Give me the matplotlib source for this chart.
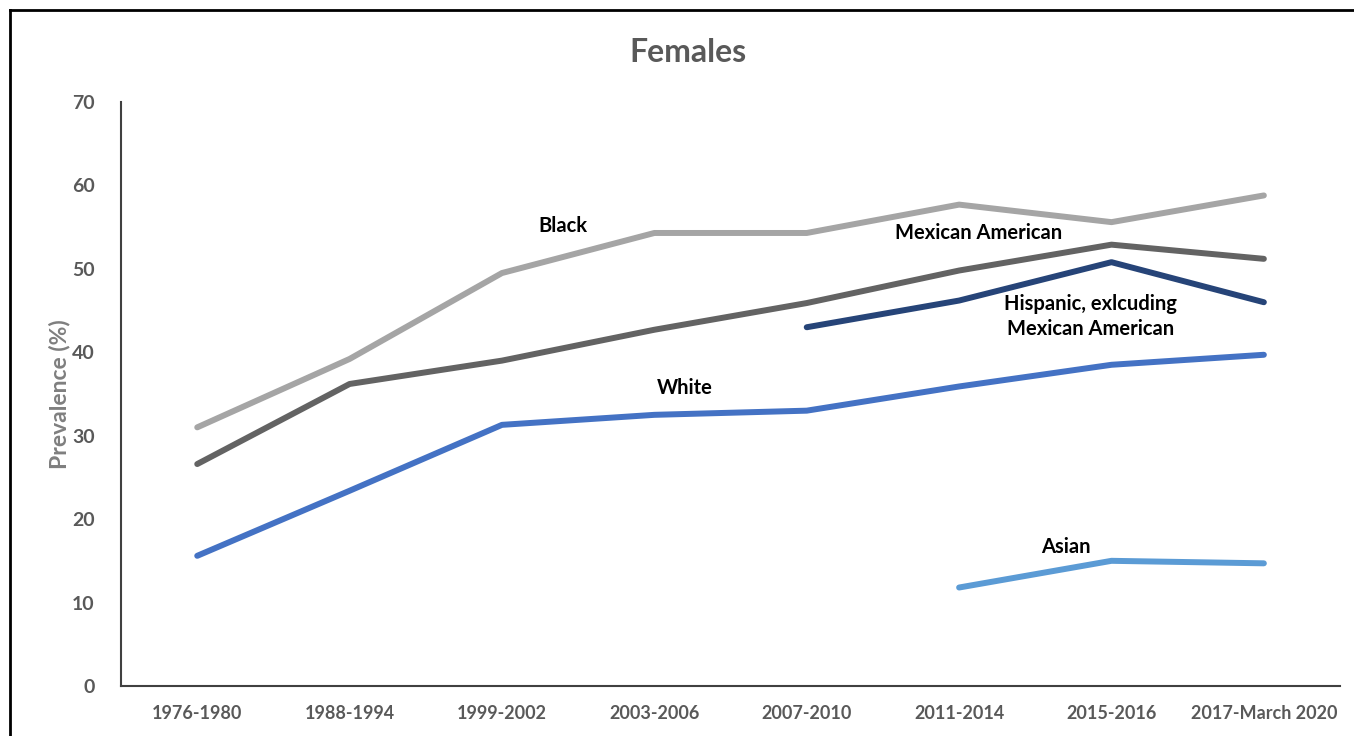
import numpy as np
import matplotlib
matplotlib.use("Agg")
import matplotlib.pyplot as plt
from matplotlib.lines import Line2D

plt.rcParams['font.family'] = ['Lato', 'DejaVu Sans']

periods = ["1976-1980", "1988-1994", "1999-2002", "2003-2006",
           "2007-2010", "2011-2014", "2015-2016", "2017-March 2020"]

black = [31.0, 39.2, 49.5, 54.3, 54.3, 57.7, 55.6, 58.8]
mexican = [26.6, 36.2, 39.0, 42.7, 45.9, 49.8, 52.9, 51.2]
hispanic = [None, None, None, None, 43.0, 46.2, 50.8, 46.0]
white = [15.6, 23.4, 31.3, 32.5, 33.0, 35.9, 38.5, 39.7]
asian = [None, None, None, None, None, 11.8, 15.0, 14.7]

yticks = [0, 10, 20, 30, 40, 50, 60, 70]


def arr(vals):
    return np.array([np.nan if v is None else v for v in vals], dtype=float)


fig = plt.figure(figsize=(13.54, 7.36), dpi=100)
ax = fig.add_axes([0.0894, 0.068, 0.9003, 0.7934])

x = np.arange(len(periods))
lw = 4.3
ax.plot(x, arr(black), color='#A5A5A5', lw=lw, solid_capstyle='round')
ax.plot(x, arr(mexican), color='#636363', lw=lw, solid_capstyle='round')
ax.plot(x, arr(hispanic), color='#264478', lw=lw, solid_capstyle='round')
ax.plot(x, arr(white), color='#4472C4', lw=lw, solid_capstyle='round')
ax.plot(x, arr(asian), color='#5B9BD5', lw=lw, solid_capstyle='round')

lbl = dict(fontsize=14.5, fontweight='bold', color='black', ha='center', va='center')
ax.text(2.4, 55.1, "Black", **lbl)
ax.text(5.13, 54.3, "Mexican American", **lbl)
ax.text(5.86, 44.3, "Hispanic, exlcuding\nMexican American", linespacing=1.3, **lbl)
ax.text(3.2, 35.7, "White", **lbl)
ax.text(5.7, 16.7, "Asian", **lbl)

ax.set_xlim(-0.5, 7.5)
ax.set_ylim(0, 70)
ax.set_xticks(x)
ax.set_xticklabels(periods)
ax.set_yticks(yticks)
ax.tick_params(length=0, labelsize=13, labelcolor='#595959', pad=14)
ax.tick_params(axis='y', labelsize=14, pad=19)
for t in ax.get_xticklabels() + ax.get_yticklabels():
    t.set_fontweight('bold')

for s in ['top', 'right']:
    ax.spines[s].set_visible(False)
for s in ['left', 'bottom']:
    ax.spines[s].set_color('#404040')
    ax.spines[s].set_linewidth(1.5)

ax.set_ylabel("Prevalence (%)", fontsize=16.5, fontweight='bold', color='#7F7F7F', labelpad=1)
fig.text(0.508, 0.929, "Females", fontsize=23, fontweight='bold', color='#595959',
         ha='center', va='center')

# outer frame (left and top edges only fall inside the canvas)
fig.add_artist(Line2D([0.0074, 0.0074], [0, 0.9864], color='black', lw=2,
                      transform=fig.transFigure))
fig.add_artist(Line2D([0.0074, 1], [0.9864, 0.9864], color='black', lw=2,
                      transform=fig.transFigure))

fig.savefig("out.png", dpi=100)
